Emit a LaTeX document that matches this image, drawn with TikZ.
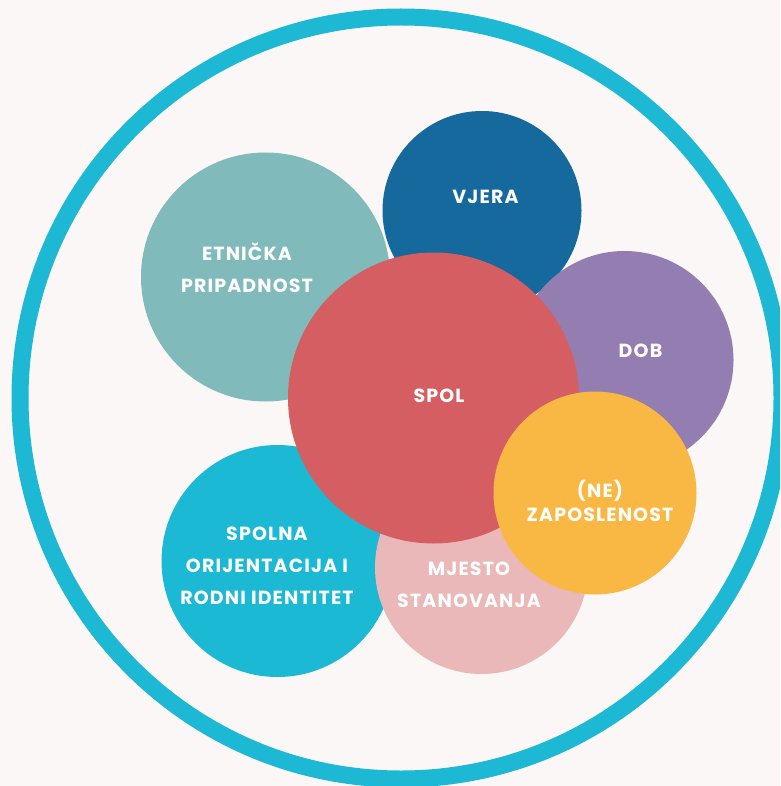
\documentclass[tikz,border=0pt]{standalone}
\usepackage{fontspec}
\usepackage{xcolor}
\usepackage{tikz}
\usetikzlibrary{positioning}
\newfontfamily\bubblefont{Poppins}[LetterSpace=6]
\definecolor{paper}{HTML}{FBF7F6}
\definecolor{ringblue}{HTML}{1CB8D4}
\definecolor{teal}{HTML}{80BABA}
\definecolor{navy}{HTML}{16699C}
\definecolor{lilac}{HTML}{947DB1}
\definecolor{coral}{HTML}{D45E62}
\definecolor{amber}{HTML}{F9B843}
\definecolor{blush}{HTML}{EAB8B8}
\definecolor{cyan}{HTML}{1BB9D4}
\tikzset{tag node/.style = {text=white,align=center,inner sep=0pt,font=\bubblefont\bfseries\fontsize{19}{32}\selectfont}}

\begin{document}
\begin{tikzpicture}[x=1pt,y=-1pt,bubble node/.style={circle,inner sep=0pt,outer sep=0pt}]
                \fill[paper] (0,0) rectangle (780,786);
                \useasboundingbox (0,0) rectangle (780,786);
                \clip (0,0) rectangle (780,786);
                \node[bubble node,draw=ringblue,line width=17pt,minimum size=762pt] (frame) at (401,398) {};

                \node[bubble node,fill=teal,minimum size=249pt] (etnicka) at (265.5,277) {};
                \node[bubble node,fill=navy,minimum size=199pt] (vjera) at (482,210.5) {};
                \node[bubble node,fill=lilac,minimum size=218pt] (dob) at (624.5,360) {};
                \node[bubble node,fill=cyan,minimum size=232pt] (spolna) at (277.5,561) {};
                \node[bubble node,fill=blush,minimum size=213pt] (mjesto) at (481.5,567.5) {};
                \node[bubble node,fill=coral,minimum size=291pt] (spol) at (433.5,398) {};
                \node[bubble node,fill=amber,minimum size=203pt] (posao) at (595,493) {};

                \node[tag node] (etnicka-t) at (247,268) {ETNIČKA\\PRIPADNOST};
                \node[tag node] (vjera-t) at (485.5,197) {VJERA};
                \node[tag node] (dob-t) at (640.5,350.5) {DOB};
                \node[tag node] (spol-t) at (439,395.5) {SPOL};
                \node[tag node,font=\bubblefont\bfseries\fontsize{19}{24}\selectfont] (posao-t) at (600,501) {(NE)\\ZAPOSLENOST};
                \node[tag node] (mjesto-t) at (469,585) {MJESTO\\STANOVANJA};
                \node[tag node] (spolna-t) at (267,566) {SPOLNA\\ORIJENTACIJA I\\RODNI IDENTITET};
            \end{tikzpicture}
\end{document}
